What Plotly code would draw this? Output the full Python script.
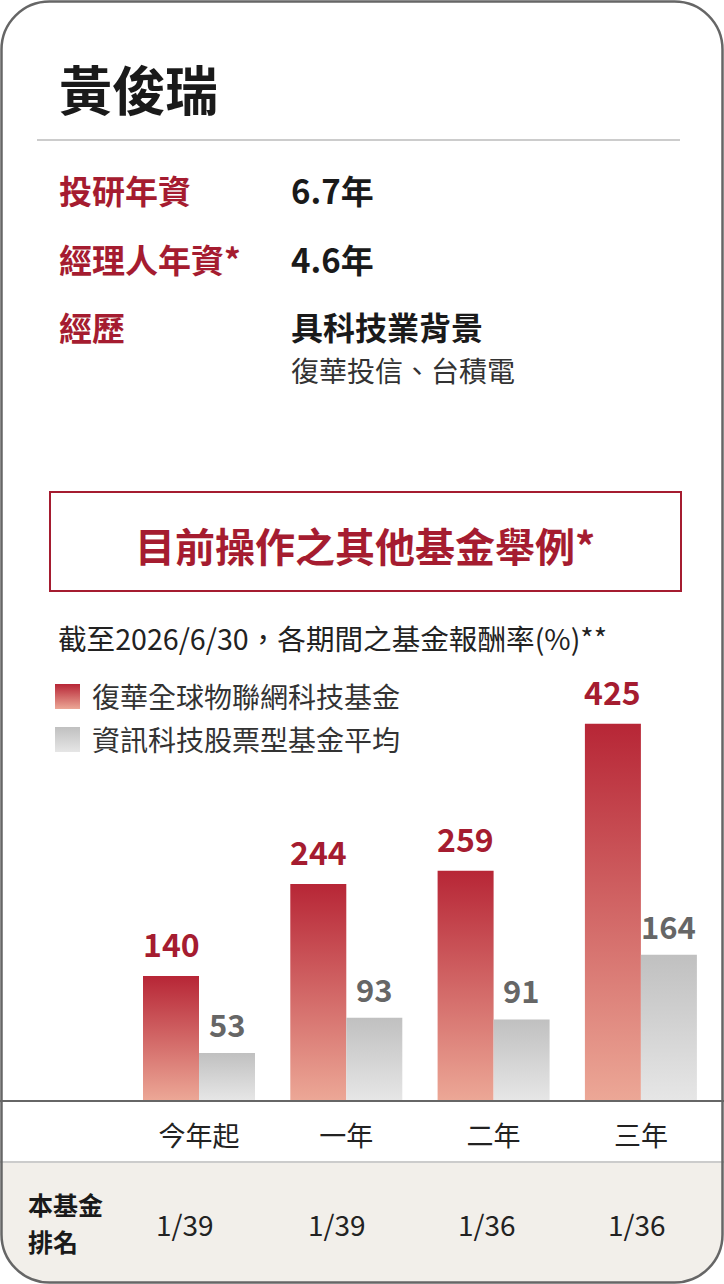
import plotly.graph_objects as go

W, H = 724, 1284
RED = "#a51c30"
INK = "#1a1a1a"
FONT = "Noto Sans CJK TC"

manager = "黃俊瑞"
profile_labels = ["投研年資", "經理人年資*", "經歷"]
profile_values = ["6.7年", "4.6年", "具科技業背景"]
career_note = "復華投信、台積電"
box_title = "目前操作之其他基金舉例*"
subtitle = "截至2026/6/30，各期間之基金報酬率(%)**"

categories = ["今年起", "一年", "二年", "三年"]
fund_name = "復華全球物聯網科技基金"
avg_name = "資訊科技股票型基金平均"
fund_returns = [140, 244, 259, 425]
avg_returns = [53, 93, 91, 164]
rank_title = ["本基金", "排名"]
fund_ranks = ["1/39", "1/39", "1/36", "1/36"]

# pixel layout of the bar area
X0_PX, STEP_PX = 199, 147.3
BASE_PX, PPU = 1100, 0.885
BAR_W = 56 / STEP_PX
RANK_X_PX = [185, 337, 487, 637]

RED_SCALE = [[0, "#eca796"], [1, "#b72636"]]
GRAY_SCALE = [[0, "#e6e6e6"], [1, "#c0c0c0"]]


def xd(px):
    return (px - X0_PX) / STEP_PX


def yd(py):
    return (BASE_PX - py) / PPU


def P(x, y):
    return f"{x / W:.5f},{1 - y / H:.5f}"


def text(s, x, y, size, color=INK, bold=False, anchor="left"):
    fig.add_annotation(text=s, x=x / W, y=1 - y / H, xref="paper", yref="paper",
                       xanchor=anchor, yanchor="middle", showarrow=False,
                       font=dict(family=FONT, size=size, color=color,
                                 weight="bold" if bold else "normal"))


fig = go.Figure()

# bars, one filled shape per bar so each gets its own gradient
for i, v in enumerate(fund_returns):
    l, r = i - BAR_W, i
    fig.add_trace(go.Scatter(x=[l, r, r, l, l], y=[0, 0, v, v, 0], mode="lines",
                             fill="toself", line=dict(width=0),
                             fillgradient=dict(type="vertical", colorscale=RED_SCALE),
                             hoverinfo="skip", showlegend=False))
    fig.add_annotation(x=i - BAR_W / 2, y=v, text=str(v), showarrow=False,
                       yanchor="bottom", yshift=8,
                       font=dict(family=FONT, size=32, color=RED, weight="bold"))
for i, v in enumerate(avg_returns):
    l, r = i, i + BAR_W
    fig.add_trace(go.Scatter(x=[l, r, r, l, l], y=[0, 0, v, v, 0], mode="lines",
                             fill="toself", line=dict(width=0),
                             fillgradient=dict(type="vertical", colorscale=GRAY_SCALE),
                             hoverinfo="skip", showlegend=False))
    fig.add_annotation(x=i + BAR_W / 2, y=v, text=str(v), showarrow=False,
                       yanchor="bottom", yshift=5,
                       font=dict(family=FONT, size=31, color="#666666", weight="bold"))

# legend swatches
for py, top, bottom in [(696.5, "#b72636", "#eca796"), (739.5, "#c0c0c0", "#e6e6e6")]:
    fig.add_trace(go.Scatter(x=[xd(67.5)], y=[yd(py)], mode="markers",
                             marker=dict(symbol="square", size=25, color=top,
                                         line=dict(width=0),
                                         gradient=dict(type="vertical", color=bottom)),
                             hoverinfo="skip", showlegend=False))

# card decoration
L, T, R, B, rad = 1.5, 1.5, 722.5, 1282.5, 48
k = 0.5523 * rad
bottom_path = (f"M {P(L, 1163)} L {P(R, 1163)} L {P(R, B - rad)} "
               f"C {P(R, B - rad + k)} {P(R - rad + k, B)} {P(R - rad, B)} "
               f"L {P(L + rad, B)} C {P(L + rad - k, B)} {P(L, B - rad + k)} {P(L, B - rad)} Z")
card_path = (f"M {P(L + rad, T)} L {P(R - rad, T)} "
             f"C {P(R - rad + k, T)} {P(R, T + rad - k)} {P(R, T + rad)} "
             f"L {P(R, B - rad)} C {P(R, B - rad + k)} {P(R - rad + k, B)} {P(R - rad, B)} "
             f"L {P(L + rad, B)} C {P(L + rad - k, B)} {P(L, B - rad + k)} {P(L, B - rad)} "
             f"L {P(L, T + rad)} C {P(L, T + rad - k)} {P(L + rad - k, T)} {P(L + rad, T)} Z")
fig.add_shape(type="path", path=bottom_path, xref="paper", yref="paper",
              fillcolor="#f2efea", line=dict(width=0), layer="below")
fig.add_shape(type="line", x0=0, x1=1, y0=1 - 1162 / H, y1=1 - 1162 / H,
              xref="paper", yref="paper", line=dict(color="#cccccc", width=2))
fig.add_shape(type="line", x0=37 / W, x1=680 / W, y0=1 - 140 / H, y1=1 - 140 / H,
              xref="paper", yref="paper", line=dict(color="#cccccc", width=2))
fig.add_shape(type="rect", x0=50 / W, x1=681 / W, y0=1 - 492 / H, y1=1 - 591 / H,
              xref="paper", yref="paper", line=dict(color=RED, width=2))
fig.add_shape(type="path", path=card_path, xref="paper", yref="paper",
              fillcolor="rgba(0,0,0,0)", line=dict(color="#666666", width=2.5))

# header texts
text(manager, 57, 88, 53, bold=True)
for (lab, val), py in zip(zip(profile_labels[:2], profile_values[:2]), [190, 259]):
    text(lab, 57, py, 33, color=RED, bold=True)
    text(val, 289, py, 33, bold=True)
text(profile_labels[2], 57, 327, 33, color=RED, bold=True)
text(profile_values[2], 289, 326, 32, bold=True)
text(career_note, 289, 370, 28, color="#333333")
text(box_title, 365, 545, 40, color=RED, bold=True, anchor="center")
text(subtitle, 56, 637, 28.6, color="#222222")
text(fund_name, 90, 696, 28, color="#333333")
text(avg_name, 90, 739, 28, color="#333333")

# ranking row
text(rank_title[0], 26, 1204, 25, bold=True)
text(rank_title[1], 26, 1241, 25, bold=True)
for rk, px in zip(fund_ranks, RANK_X_PX):
    text(rk, px, 1224, 28, color="#222222", anchor="center")

fig.update_layout(
    width=W, height=H,
    margin=dict(l=0, r=0, t=0, b=0, autoexpand=False),
    paper_bgcolor="white", plot_bgcolor="rgba(0,0,0,0)",
    showlegend=False,
    xaxis=dict(range=[xd(0), xd(W)], tickvals=list(range(len(categories))),
               ticktext=categories, showgrid=False, zeroline=False,
               showline=True, linecolor="#666666", linewidth=2,
               anchor="free", position=1 - 1101 / H, ticks="",
               ticklabelstandoff=12,
               tickfont=dict(family=FONT, size=27, color="#222222"), fixedrange=True),
    yaxis=dict(range=[yd(H), yd(0)], visible=False, fixedrange=True),
)

fig.write_html("out.html", config={"displayModeBar": False},
               post_script="document.body.style.margin='0';")
